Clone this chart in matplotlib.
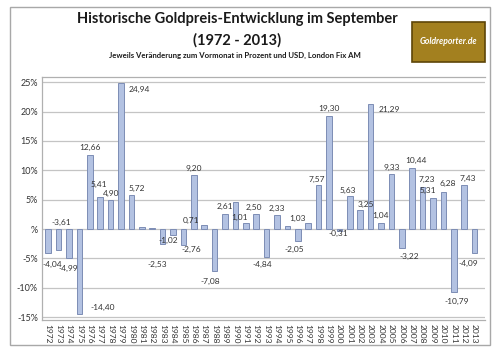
import numpy as np
import matplotlib
matplotlib.use('Agg')
import matplotlib.pyplot as plt
from matplotlib.patches import Rectangle

years = list(range(1972, 2014))
values = [-4.04, -3.61, -4.99, -14.40, 12.66, 5.41, 4.90, 24.94, 5.72, 0.30,
          0.12, -2.53, -1.02, -2.76, 9.20, 0.71, -7.08, 2.61, 4.60, 1.01,
          2.50, -4.84, 2.33, 0.50, -2.05, 1.03, 7.57, 19.30, -0.31, 5.63,
          3.25, 21.29, 1.04, 9.33, -3.22, 10.44, 7.23, 5.31, 6.28, -10.79,
          7.43, -4.09]
# bars without a value label in the original
unlabeled = [1981, 1982, 1990, 1995]
yticks = [-15, -10, -5, 0, 5, 10, 15, 20, 25]
ytick_labels = ['-15%', '-10%', '-5%', '%', '5%', '10%', '15%', '20%', '25%']

# label nudges (dx in bars, dy in %), excel placed them rather loosely
nudge = {1972: (0.4, -0.2), 1973: (0.3, 6.6), 1974: (-0.1, 0),
         1975: (2.2, 2.8), 1977: (-0.1, 0.9), 1979: (1.8, -2.4),
         1980: (0.5, 0), 1983: (-0.5, -1.7), 1984: (-0.5, 0.8),
         1985: (0.8, 1.0), 1987: (-1.3, -0.5), 1988: (-0.4, 0),
         1991: (-0.6, -0.3), 1992: (-0.2, 0), 1993: (-0.4, 0.6),
         1996: (-0.3, 0.3), 1997: (-1.0, -0.5), 1998: (-0.2, -0.3),
         2000: (-0.1, 1.3), 2001: (-0.2, -0.3), 2002: (0.5, -0.3),
         2003: (1.8, -2.1), 2006: (0.7, 0.4), 2007: (0.4, 0),
         2008: (0.4, 0), 2009: (-0.5, 0), 2010: (0.4, 0.2),
         2011: (0.3, 0.2), 2012: (0.3, 0), 2013: (-0.6, 0)}

plt.rcParams['font.family'] = ['Lato', 'DejaVu Sans']

fig = plt.figure(figsize=(4.97, 3.54), dpi=100)
fig.patch.set_facecolor('white')
fig.patches.append(Rectangle((10/497, 1-345/354), 480/497, 338/354,
                             transform=fig.transFigure, fill=False,
                             edgecolor='#a8a8a8', linewidth=1.0))

ax = fig.add_axes([42/497, 1-320/354, 443/497, 243/354])
x = np.arange(len(years))
ax.bar(x, values, width=0.55, color='#b3c2e2', edgecolor='#7d8db5',
       linewidth=0.7, zorder=3)

for i, (yr, v) in enumerate(zip(years, values)):
    if yr in unlabeled:
        continue
    dx, dy = nudge.get(yr, (0, 0))
    if v >= 0:
        ty = v + 1.2 + dy
    else:
        ty = v - 1.8 + dy
    ax.text(i + dx, ty, f'{v:.2f}'.replace('.', ','), ha='center',
            va='center', fontsize=6, color='#333333', zorder=4)

ax.set_xlim(-0.6, 42.0)
ax.set_ylim(-15.5, 25.9)
ax.set_yticks(yticks)
ax.set_yticklabels(ytick_labels, fontsize=6.5, color='#333333')
ax.set_xticks(x)
ax.set_xticklabels([str(y) for y in years], rotation=270, fontsize=6,
                   color='#333333')
ax.tick_params(axis='both', length=0, pad=3)
ax.grid(axis='y', color='#c4c4c4', linewidth=0.9, zorder=0)
ax.spines['right'].set_visible(False)
for s in ['left', 'top', 'bottom']:
    ax.spines[s].set_color('#b0b0b0')
    ax.spines[s].set_linewidth(0.9)

fig.text(237/497, 1-19/354, 'Historische Goldpreis-Entwicklung im September',
         ha='center', va='center', fontsize=10.5, fontweight='bold', color='#1a1a1a')
fig.text(237/497, 1-40/354, '(1972 - 2013)', ha='center', va='center',
         fontsize=10.5, fontweight='bold', color='#1a1a1a')
fig.text(235/497, 1-55/354,
         'Jeweils Veränderung zum Vormonat in Prozent und USD, London Fix AM',
         ha='center', va='center', fontsize=5.6, fontweight='bold', color='#1a1a1a')

# logo box
fig.patches.append(Rectangle((412/497, 1-62/354), 73/497, 40/354,
                             transform=fig.transFigure, facecolor='#a3801f',
                             edgecolor='#5e4608', linewidth=1.2))
fig.text(448/497, 1-42/354, 'Goldreporter.de', ha='center', va='center',
         fontsize=6.2, fontweight='bold', style='italic', color='white')

fig.savefig('out.png', dpi=100)
